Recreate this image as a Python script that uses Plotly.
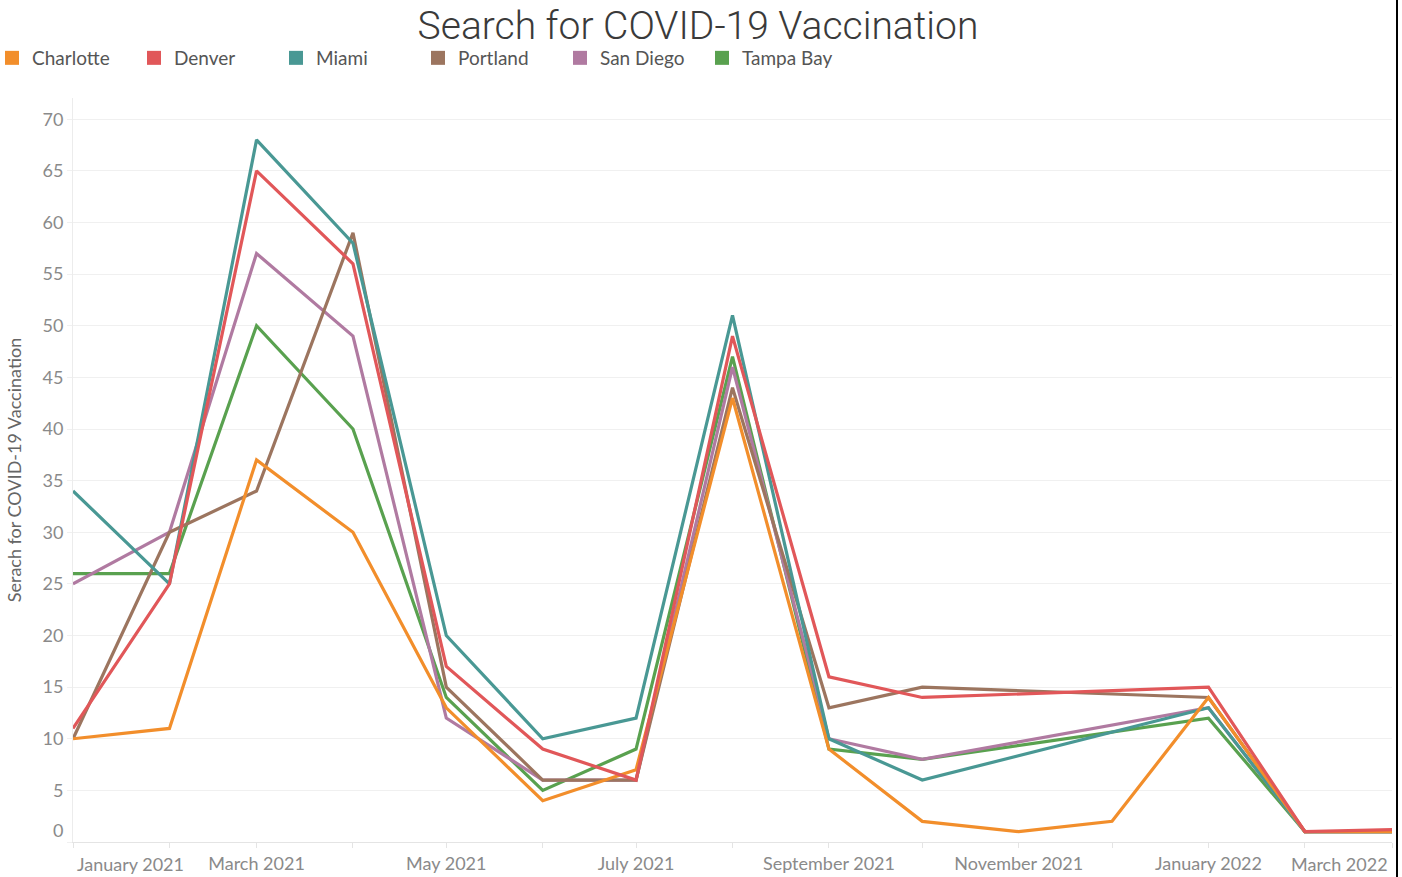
import plotly.graph_objects as go

# ---- data ----
months = ["2021-01-01", "2021-02-01", "2021-03-01", "2021-04-01", "2021-05-01",
          "2021-06-01", "2021-07-01", "2021-08-01", "2021-09-01", "2021-10-01",
          "2021-11-01", "2021-12-01", "2022-01-01", "2022-02-01", "2022-03-01"]
tick_labels = ["January 2021", "", "March 2021", "", "May 2021", "", "July 2021", "",
               "September 2021", "", "November 2021", "", "January 2022", "", "March 2022"]

charlotte = [10, 11, 37, 30, 13, 4, 7, 43, 9, 2, 1, 2, 14, 1, 1]
denver = [11, 25, 65, 56, 17, 9, 6, 49, 16, 14, None, None, 15, 1, 1.2]
miami = [34, 25, 68, 58, 20, 10, 12, 51, 10, 6, None, None, 13, 1, 1]
portland = [10, 30, 34, 59, 15, 6, 6, 44, 13, 15, None, None, 14, 1, 1]
san_diego = [25, 30, 57, 49, 12, 6, 6, 46, 10, 8, None, None, 13, 1, 1]
tampa_bay = [26, 26, 50, 40, 14, 5, 9, 47, 9, 8, None, None, 12, 1, 1]

y_ticks = [0, 5, 10, 15, 20, 25, 30, 35, 40, 45, 50, 55, 60, 65, 70]

series = {
    "Charlotte": (charlotte, "#F28E2B"),
    "Denver": (denver, "#E15759"),
    "Miami": (miami, "#499894"),
    "Portland": (portland, "#9C755F"),
    "San Diego": (san_diego, "#B07AA1"),
    "Tampa Bay": (tampa_bay, "#59A14F"),
}
legend_order = ["Charlotte", "Denver", "Miami", "Portland", "San Diego", "Tampa Bay"]
draw_order = ["Tampa Bay", "San Diego", "Portland", "Miami", "Charlotte", "Denver"]

FONT = "Lato"
TICK_COLOR = "#8a8a8a"
fig = go.Figure()

# legend entries (square swatches)
for name in legend_order:
    vals, col = series[name]
    fig.add_trace(go.Scatter(
        x=[None], y=[None], mode="markers", name=name, legendgroup=name,
        marker=dict(symbol="square", size=14, color=col, line=dict(width=0)),
        showlegend=True, hoverinfo="skip"))

# lines
for name in draw_order:
    vals, col = series[name]
    fig.add_trace(go.Scatter(
        x=months, y=vals, mode="lines", name=name, legendgroup=name,
        line=dict(color=col, width=3.2), connectgaps=True, showlegend=False))

W, H = 1402, 877
ml, mr, mt, mb = 73, 10, 98, 35
plot_w = W - ml - mr
plot_h = H - mt - mb

ticktext = list(tick_labels)
ticktext[0] = ""
ticktext[-1] = ""

ytext = [str(v) for v in y_ticks]
ytext[0] = ""

fig.update_layout(
    width=W, height=H,
    margin=dict(l=ml, r=mr, t=mt, b=mb, autoexpand=False),
    paper_bgcolor="white", plot_bgcolor="white",
    font=dict(family=FONT, color=TICK_COLOR, size=16),
    title=dict(text="Search for COVID-19 Vaccination", x=698 / W, xref="container",
               xanchor="center", y=1 - 25 / H, yref="container", yanchor="middle",
               font=dict(family="Roboto", size=39, color="#3a3a3a", weight=300)),
    legend=dict(orientation="h", xref="paper", yref="paper",
                x=(-8 - ml) / plot_w, y=(H - mb - 58) / plot_h,
                xanchor="left", yanchor="middle",
                font=dict(family=FONT, size=19, color="#555555"),
                itemwidth=30, entrywidth=97, itemsizing="trace",
                bgcolor="rgba(0,0,0,0)", traceorder="normal"),
    showlegend=True,
    xaxis=dict(type="date", range=[months[0], months[-1]], automargin=False,
               tickmode="array", tickvals=months, ticktext=ticktext,
               showgrid=False, zeroline=False,
               showline=True, linecolor="#e4e4e4", linewidth=1,
               ticks="outside", ticklen=5, tickcolor="#e4e4e4",
               ticklabelstandoff=0,
               tickfont=dict(family=FONT, size=18, color=TICK_COLOR)),
    yaxis=dict(range=[0, 72.06], tickmode="array", tickvals=y_ticks, ticktext=ytext,
               automargin=False,
               showgrid=True, gridcolor="#f0f0f0", gridwidth=1, zeroline=False,
               showline=True, linecolor="#ececec", linewidth=1,
               ticks="outside", ticklen=5, tickcolor="#f0f0f0",
               tickfont=dict(family=FONT, size=18, color=TICK_COLOR),
               title=dict(text="Serach for COVID-19 Vaccination", standoff=16,
                          font=dict(family=FONT, size=18, color="#666666"))),
    annotations=[
        dict(text=tick_labels[0], x=months[0], xref="x", y=0, yref="paper",
             xanchor="left", yanchor="middle", yshift=-22, xshift=2, showarrow=False,
             font=dict(family=FONT, size=18, color=TICK_COLOR)),
        dict(text=tick_labels[-1], x=months[-1], xref="x", y=0, yref="paper",
             xanchor="right", yanchor="middle", yshift=-22, xshift=-2, showarrow=False,
             font=dict(family=FONT, size=18, color=TICK_COLOR)),
        dict(text=str(y_ticks[0]), x=0, xref="paper", y=y_ticks[0], yref="y",
             xanchor="right", yanchor="middle", xshift=-8, yshift=12, showarrow=False,
             font=dict(family=FONT, size=18, color=TICK_COLOR)),
    ],
    shapes=[dict(type="line", xref="paper", yref="paper",
                 x0=(1397 - ml) / plot_w, x1=(1397 - ml) / plot_w,
                 y0=-mb / plot_h - 0.01, y1=(H - mb) / plot_h + 0.01,
                 line=dict(color="black", width=2))],
)

# remove the browser's default 8px body margin so the figure sits at the page origin
fig.write_html("out.html", config={"displayModeBar": False},
               post_script="document.body.style.margin='0';document.body.style.overflow='hidden';")
